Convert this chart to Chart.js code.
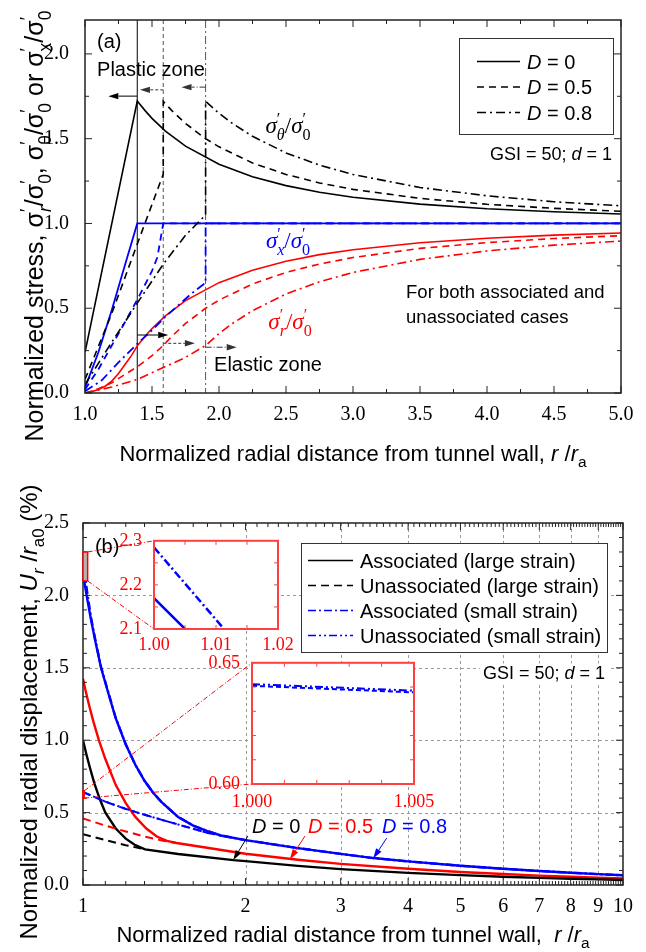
<!DOCTYPE html>
<html lang="en">
<head>
<meta charset="UTF-8">
<title>Stress and displacement around a tunnel</title>
<script src="https://cdn.jsdelivr.net/npm/chart.js@4.4.1/dist/chart.umd.min.js"></script>
<style>
  html, body { margin: 0; padding: 0; background: #fff; }
  #page { position: relative; width: 646px; height: 952px; overflow: hidden; }
  canvas { position: absolute; }
</style>
</head>
<body>
<div id="page">
  <canvas id="chartA" width="646" height="470" style="left:0;top:0"></canvas>
  <canvas id="chartB" width="646" height="482" style="left:0;top:470px"></canvas>
  <canvas id="inset1" width="185" height="130" style="left:114px;top:526px"></canvas>
  <canvas id="inset2" width="235" height="165" style="left:207px;top:648px"></canvas>
</div>

<script>
// ---------- panel (a): normalized stresses vs r/ra ----------
const xTicksA = [1.0, 1.5, 2.0, 2.5, 3.0, 3.5, 4.0, 4.5, 5.0];
const yTicksA = [0.0, 0.5, 1.0, 1.5, 2.0];
const plasticRadius = [1.39, 1.584, 1.9];          // D = 0, 0.5, 0.8
const legendA = ['0', '0.5', '0.8'];

// tangential stress
const thetaD0R = [1.0, 1.39, 1.45, 1.5, 1.6, 1.75, 2.0, 2.25, 2.5, 2.75, 3.0, 3.5, 4.0, 4.5, 5.0];
const thetaD0 = [0.24, 1.722, 1.664, 1.62, 1.545, 1.456, 1.349, 1.276, 1.223, 1.184, 1.155, 1.114, 1.087, 1.069, 1.056];
const thetaD05R = [1.0, 1.2, 1.4, 1.584, 1.584, 1.65, 1.75, 1.9, 2.0, 2.25, 2.5, 2.75, 3.0, 3.5, 4.0, 4.5, 5.0];
const thetaD05 = [0.08, 0.47, 0.9, 1.29, 1.72, 1.664, 1.59, 1.5, 1.452, 1.357, 1.289, 1.239, 1.201, 1.148, 1.113, 1.089, 1.072];
const thetaD08R = [1.0, 1.2, 1.39, 1.584, 1.75, 1.9, 1.9, 2.0, 2.1, 2.25, 2.5, 2.75, 3.0, 3.5, 4.0, 4.5, 5.0];
const thetaD08 = [0.05, 0.3, 0.53, 0.76, 0.93, 1.05, 1.72, 1.65, 1.59, 1.514, 1.416, 1.344, 1.289, 1.212, 1.163, 1.128, 1.104];

// radial stress
const radD0R = [1.0, 1.05, 1.1, 1.15, 1.2, 1.25, 1.3, 1.35, 1.39, 1.45, 1.5, 1.6, 1.75, 2.0, 2.25, 2.5, 2.75, 3.0, 3.5, 4.0, 4.5, 5.0];
const radD0 = [0, 0.008, 0.02, 0.04, 0.07, 0.115, 0.17, 0.225, 0.278, 0.336, 0.38, 0.455, 0.545, 0.651, 0.724, 0.777, 0.816, 0.845, 0.886, 0.913, 0.931, 0.944];
const radD05R = [1.0, 1.1, 1.2, 1.3, 1.4, 1.5, 1.584, 1.65, 1.75, 1.9, 2.0, 2.25, 2.5, 2.75, 3.0, 3.5, 4.0, 4.5, 5.0];
const radD05 = [0, 0.025, 0.06, 0.11, 0.16, 0.22, 0.28, 0.336, 0.41, 0.5, 0.548, 0.643, 0.711, 0.761, 0.799, 0.853, 0.887, 0.911, 0.928];
const radD08R = [1.0, 1.2, 1.39, 1.584, 1.75, 1.9, 2.0, 2.1, 2.25, 2.5, 2.75, 3.0, 3.5, 4.0, 4.5, 5.0];
const radD08 = [0, 0.035, 0.08, 0.15, 0.21, 0.28, 0.35, 0.41, 0.486, 0.584, 0.656, 0.711, 0.788, 0.838, 0.872, 0.896];

// axial stress
const axD0R = [1.0, 1.1, 1.2, 1.3, 1.39, 5.0];
const axD0 = [0.03, 0.24, 0.49, 0.76, 1.0, 1.0];
const axD05R = [1.0, 1.1, 1.2, 1.3, 1.41, 1.5, 1.54, 1.584, 5.0];
const axD05 = [0.02, 0.14, 0.28, 0.42, 0.58, 0.72, 0.8, 1.0, 1.0];
const axD08R = [1.0, 1.125, 1.25, 1.39, 1.5, 1.6, 1.7, 1.8, 1.9, 1.9, 5.0];
const axD08 = [0.01, 0.075, 0.18, 0.29, 0.37, 0.45, 0.52, 0.59, 0.65, 1.0, 1.0];

// zone arrows (start at the plastic radius)
const plasticArrowTo = [1.174, 1.41, 1.72];
const plasticArrowY = [1.751, 1.788, 1.804];
const elasticArrowTo = [1.621, 1.82, 2.132];
const elasticArrowY = [0.342, 0.293, 0.27];

// ---------- panel (b): normalized radial displacement ----------
const xTicksB = [1, 2, 3, 4, 5, 6, 7, 8, 9, 10];
const yTicksB = [0.0, 0.5, 1.0, 1.5, 2.0, 2.5];
const legendB = ['Associated (large strain)', 'Unassociated (large strain)', 'Associated (small strain)', 'Unassociated (small strain)'];

const bD0AssocR = [1.0, 1.015, 1.03, 1.05, 1.075, 1.1, 1.15, 1.2, 1.25, 1.303, 1.5, 1.9, 2.0, 2.5, 3, 4, 5, 6, 7, 8, 9, 10];
const bD0Assoc = [1.0, 0.9, 0.81, 0.7, 0.59, 0.5, 0.39, 0.32, 0.275, 0.246, 0.214, 0.172, 0.165, 0.132, 0.11, 0.084, 0.068, 0.057, 0.049, 0.043, 0.039, 0.035];
const bD0UnassocR = [1.0, 1.1, 1.2, 1.303];
const bD0Unassoc = [0.35, 0.31, 0.275, 0.246];

const bD05AssocR = [1.0, 1.01, 1.025, 1.045, 1.07, 1.1, 1.15, 1.2, 1.25, 1.31, 1.37, 1.43, 1.49, 2.0, 2.5, 3, 4, 5, 6, 7, 8, 9, 10];
const bD05Assoc = [1.425, 1.35, 1.25, 1.13, 1.0, 0.87, 0.69, 0.565, 0.47, 0.39, 0.335, 0.305, 0.29, 0.216, 0.174, 0.146, 0.112, 0.09, 0.076, 0.065, 0.057, 0.051, 0.045];
const bD05UnassocR = [1.0, 1.1, 1.2, 1.3, 1.4, 1.49];
const bD05Unassoc = [0.46, 0.41, 0.37, 0.335, 0.307, 0.29];

const bD08AssocR = [1.0, 1.005, 1.02, 1.035, 1.053, 1.08, 1.11, 1.15, 1.2, 1.25, 1.3, 1.35, 1.4, 1.5, 1.6, 1.7, 1.8, 2.0, 2.5, 3, 3.45, 4, 5, 6, 7, 8, 9, 10];
const bD08Assoc = [2.17, 2.1, 1.96, 1.83, 1.69, 1.5, 1.345, 1.15, 0.97, 0.83, 0.72, 0.635, 0.57, 0.47, 0.41, 0.372, 0.342, 0.31, 0.255, 0.215, 0.186, 0.163, 0.133, 0.112, 0.097, 0.085, 0.075, 0.067];
const bD08AssocSmallR = [1.0, 1.0113, 1.02, 1.035, 1.053, 1.08, 1.11, 1.15, 1.2, 1.25, 1.3, 1.35, 1.4, 1.5, 1.6, 1.7, 1.8, 2.0, 2.5, 3, 3.45, 4, 5, 6, 7, 8, 9, 10];
const bD08AssocSmall = [2.285, 2.1, 2.0, 1.845, 1.7, 1.505, 1.35, 1.153, 0.972, 0.83, 0.72, 0.635, 0.57, 0.47, 0.41, 0.372, 0.342, 0.31, 0.255, 0.215, 0.186, 0.163, 0.133, 0.112, 0.097, 0.085, 0.075, 0.067];
const bD08UnassocR = [1.0, 1.005, 1.1, 1.2, 1.3, 1.4, 1.5, 1.6, 1.7, 1.8];
const bD08Unassoc = [0.6405, 0.6378, 0.575, 0.525, 0.485, 0.45, 0.418, 0.388, 0.36, 0.342];
const bD08UnassocSmall = [0.6412, 0.6385, 0.576, 0.526, 0.485, 0.45, 0.418, 0.388, 0.36, 0.342];

// zoom windows shown in the insets
const zoom1X = [1.0, 1.02];
const zoom1Y = [2.1, 2.3];
const zoom2X = [1.0, 1.005];
const zoom2Y = [0.60, 0.65];

// ---------- helpers ----------
const SANS = '"Liberation Sans", Arial, sans-serif';
const SERIF = '"Liberation Serif", "Times New Roman", serif';
const BLACK = '#000', RED = '#ff0000', BLUE = '#0000ff';
const dashA = [[], [7, 5], [9, 4, 2, 4]];
const dashB = [[], [8, 5], [8, 3, 2, 3], [8, 3, 2, 3, 2, 3]];

function pts(xs, ys) { return xs.map((x, i) => ({ x: x, y: ys[i] })); }

function line(xs, ys, color, dash, width) {
  return { data: pts(xs, ys), borderColor: color, borderDash: dash, borderWidth: width,
           pointRadius: 0, pointHoverRadius: 0, fill: false, tension: 0 };
}

function range(a, b, step) {
  const out = [];
  for (let v = a; v <= b + step / 10; v += step) out.push(Math.round(v * 10000) / 10000);
  return out;
}

// draws text made of pieces (italic, subscripts, primes stacked over subscripts)
function drawRich(ctx, parts, x, y, o) {
  const fs = o.size, fam = o.family || SANS;
  const fontFor = p => (p.italic ? 'italic ' : '') + ((p.sub || p.sup) ? fs * 0.7 : fs) + 'px ' + fam;
  let total = 0;
  const widths = parts.map(p => {
    ctx.font = fontFor(p);
    const w = ctx.measureText(p.t).width;
    if (!p.stack) total += w;
    return w;
  });
  ctx.save();
  ctx.translate(x, y);
  if (o.rotate) ctx.rotate(o.rotate);
  ctx.textBaseline = 'alphabetic';
  ctx.textAlign = 'left';
  let cx = o.align === 'center' ? -total / 2 : o.align === 'right' ? -total : 0;
  if (o.bg) {
    ctx.fillStyle = o.bg;
    ctx.fillRect(cx - 3, -fs * 0.85, total + 6, fs * 1.1);
  }
  ctx.fillStyle = o.color || BLACK;
  parts.forEach((p, i) => {
    ctx.font = fontFor(p);
    const dy = p.sub ? fs * 0.3 : p.sup ? -fs * 0.4 : 0;
    ctx.fillText(p.t, cx, dy);
    if (!p.stack) cx += widths[i];
  });
  ctx.restore();
  return total;
}

function arrow(ctx, x0, y0, x1, y1, color, dash) {
  const head = 10, half = 3.2;
  const a = Math.atan2(y1 - y0, x1 - x0);
  const hx = x1 - head * Math.cos(a), hy = y1 - head * Math.sin(a);
  ctx.save();
  ctx.strokeStyle = color; ctx.fillStyle = color; ctx.lineWidth = 1;
  ctx.setLineDash(dash);
  ctx.beginPath(); ctx.moveTo(x0, y0); ctx.lineTo(hx, hy); ctx.stroke();
  ctx.setLineDash([]);
  ctx.beginPath();
  ctx.moveTo(x1, y1);
  ctx.lineTo(hx + half * Math.sin(a), hy - half * Math.cos(a));
  ctx.lineTo(hx - half * Math.sin(a), hy + half * Math.cos(a));
  ctx.closePath(); ctx.fill();
  ctx.restore();
}

function sigma(sub, subItalic, family) {
  return [{ t: 'σ', italic: family === SERIF }, { t: '′', sup: true, stack: true }, { t: sub, sub: true, italic: subItalic }];
}

// frame, inward tick marks and optional dashed grid
const frameTicks = {
  id: 'frameTicks',
  beforeDatasetsDraw(chart, args, o) {
    const { ctx, chartArea: ca, scales } = chart;
    ctx.save();
    if (o.fill) { ctx.fillStyle = o.fill; ctx.fillRect(ca.left, ca.top, ca.width, ca.height); }
    if (o.gridX || o.gridY) {
      ctx.strokeStyle = '#9a9a9a'; ctx.lineWidth = 1; ctx.setLineDash([3, 3]);
      ctx.beginPath();
      (o.gridX || []).forEach(v => { const p = Math.round(scales.x.getPixelForValue(v)) + 0.5; ctx.moveTo(p, ca.top); ctx.lineTo(p, ca.bottom); });
      (o.gridY || []).forEach(v => { const p = Math.round(scales.y.getPixelForValue(v)) + 0.5; ctx.moveTo(ca.left, p); ctx.lineTo(ca.right, p); });
      ctx.stroke();
    }
    ctx.restore();
  },
  afterDatasetsDraw(chart, args, o) {
    const { ctx, chartArea: ca, scales } = chart;
    ctx.save();
    ctx.strokeStyle = o.color; ctx.lineWidth = 1;
    ctx.beginPath();
    const marks = (xs, ys, len) => {
      xs.forEach(v => { const p = scales.x.getPixelForValue(v); ctx.moveTo(p, ca.bottom); ctx.lineTo(p, ca.bottom - len); ctx.moveTo(p, ca.top); ctx.lineTo(p, ca.top + len); });
      ys.forEach(v => { const p = scales.y.getPixelForValue(v); ctx.moveTo(ca.left, p); ctx.lineTo(ca.left + len, p); ctx.moveTo(ca.right, p); ctx.lineTo(ca.right - len, p); });
    };
    marks(o.majorX, o.majorY, o.majorLen);
    marks(o.minorX, o.minorY, o.minorLen);
    ctx.stroke();
    ctx.lineWidth = o.frameWidth;
    ctx.strokeRect(ca.left, ca.top, ca.width, ca.height);
    ctx.restore();
  }
};

function baseOptions(padding) {
  return {
    responsive: false, animation: false, events: [],
    layout: { padding: padding },
    plugins: { legend: { display: false }, tooltip: { enabled: false } }
  };
}

function axis(type, min, max, tickValues, fmt, fit, font, color, pad) {
  return {
    type: type, min: min, max: max,
    grid: { display: false }, border: { display: false },
    afterBuildTicks: s => { s.ticks = tickValues.map(v => ({ value: v })); },
    afterFit: fit,
    ticks: { padding: pad, maxRotation: 0, autoSkip: false, callback: fmt, font: font, color: color }
  };
}

// ---------- insets ----------
function makeInset(id, xr, yr, xTicks, yTicks, xMinor, yMinor, dx, dy, yWidth, xHeight, padding, xPad, sets) {
  const opts = baseOptions(padding);
  const f = { family: SERIF, size: 18 };
  opts.scales = {
    x: axis('linear', xr[0], xr[1], xTicks, v => v.toFixed(dx), s => { s.height = xHeight; }, f, RED, xPad),
    y: axis('linear', yr[0], yr[1], yTicks, v => v.toFixed(dy), s => { s.width = yWidth; }, f, RED, 4)
  };
  opts.plugins.frameTicks = { fill: '#fff', color: '#ff4040', frameWidth: 2,
    majorX: xTicks, majorY: yTicks, minorX: xMinor, minorY: yMinor, majorLen: 4, minorLen: 4 };
  return new Chart(document.getElementById(id), {
    type: 'line', data: { datasets: sets }, options: opts, plugins: [frameTicks]
  });
}

const inset1 = makeInset('inset1', zoom1X, zoom1Y, [1.00, 1.01, 1.02], [2.1, 2.2, 2.3], [1.005, 1.015], [2.15, 2.25],
  2, 1, 40, 27, { left: 0, top: 11, right: 21, bottom: 0 }, -3, [
    Object.assign(line(bD08AssocR, bD08Assoc, BLUE, dashB[0], 2.5), { clip: 0 }),
    Object.assign(line(bD08AssocSmallR, bD08AssocSmall, BLUE, dashB[2], 2.5), { clip: 0 })
  ]);

const inset2 = makeInset('inset2', zoom2X, zoom2Y, [1.000, 1.005], [0.60, 0.65], [1.001, 1.002, 1.003, 1.004], [0.61, 0.62, 0.63, 0.64],
  3, 2, 45, 29, { left: 0, top: 13, right: 28, bottom: 0 }, -1, [
    Object.assign(line(bD08UnassocR, bD08Unassoc, BLUE, [5, 3], 2), { clip: 0 }),
    Object.assign(line(bD08UnassocR, bD08UnassocSmall, BLUE, dashB[3], 2), { clip: 0 })
  ]);

// ---------- panel (a) ----------
const annotateA = {
  id: 'annotateA',
  beforeDatasetsDraw(chart) {
    const { ctx, chartArea: ca, scales: { x } } = chart;
    const colors = ['#000', '#555', '#555'], dashes = [[], [4, 3], [8, 3, 2, 3]];
    plasticRadius.forEach((r, i) => {
      const p = x.getPixelForValue(r);
      ctx.save();
      ctx.strokeStyle = colors[i]; ctx.lineWidth = 1; ctx.setLineDash(dashes[i]);
      ctx.beginPath(); ctx.moveTo(p, ca.top); ctx.lineTo(p, ca.bottom); ctx.stroke();
      ctx.restore();
    });
  },
  afterDraw(chart) {
    const { ctx, chartArea: ca, scales: { x, y } } = chart;
    const X = v => x.getPixelForValue(v), Y = v => y.getPixelForValue(v);
    const arrowDash = [[], [3, 2], [6, 2, 1, 2]], arrowColor = ['#000', '#333', '#333'];
    plasticRadius.forEach((r, i) => {
      arrow(ctx, X(r), Y(plasticArrowY[i]), X(plasticArrowTo[i]), Y(plasticArrowY[i]), arrowColor[i], arrowDash[i]);
      arrow(ctx, X(r), Y(elasticArrowY[i]), X(elasticArrowTo[i]), Y(elasticArrowY[i]), arrowColor[i], arrowDash[i]);
    });

    const mid = (s, fs) => Y(s) + fs * 0.36;
    drawRich(ctx, [{ t: '(a)' }], X(1.09), mid(2.08, 20), { size: 20 });
    drawRich(ctx, [{ t: 'Plastic zone' }], X(1.09), mid(1.91, 20), { size: 20 });
    drawRich(ctx, [{ t: 'Elastic zone' }], X(1.963), mid(0.175, 20), { size: 20 });
    drawRich(ctx, [{ t: 'GSI = 50; ' }, { t: 'd', italic: true }, { t: ' = 1' }], X(4.933), mid(1.415, 18), { size: 18, align: 'right' });
    drawRich(ctx, [{ t: 'For both associated and' }], X(3.396), mid(0.60, 18.5), { size: 18.5 });
    drawRich(ctx, [{ t: 'unassociated cases' }], X(3.396), mid(0.455, 18.5), { size: 18.5 });

    const ratio = (sub, subItalic) => sigma(sub, subItalic, SERIF).concat([{ t: '/' }], sigma('0', false, SERIF));
    drawRich(ctx, ratio('θ', true), X(2.515), mid(1.584, 23), { size: 23, family: SERIF, align: 'center', color: BLACK });
    drawRich(ctx, ratio('x', true), X(2.515), mid(0.903, 23), { size: 23, family: SERIF, align: 'center', color: BLUE });
    drawRich(ctx, ratio('r', true), X(2.53), mid(0.425, 23), { size: 23, family: SERIF, align: 'center', color: RED });

    // legend
    const bx = ca.left + 374, by = ca.top + 18;
    ctx.save();
    ctx.fillStyle = '#fff'; ctx.fillRect(bx, by, 154, 96);
    ctx.strokeStyle = '#333'; ctx.lineWidth = 1; ctx.strokeRect(bx + 0.5, by + 0.5, 154, 96);
    legendA.forEach((d, i) => {
      const ry = by + 23.5 + i * 25.5;
      ctx.strokeStyle = BLACK; ctx.lineWidth = 1.6; ctx.setLineDash(dashA[i]);
      ctx.beginPath(); ctx.moveTo(bx + 18, ry); ctx.lineTo(bx + 61, ry); ctx.stroke();
      drawRich(ctx, [{ t: 'D', italic: true }, { t: ' = ' + d }], bx + 68, ry + 7.2, { size: 20 });
    });
    ctx.restore();

    // axis titles
    drawRich(ctx, [{ t: 'Normalized radial distance from tunnel wall, ' }, { t: 'r', italic: true }, { t: ' /' },
      { t: 'r', italic: true }, { t: 'a', sub: true }], (ca.left + ca.right) / 2, 460.5, { size: 22, align: 'center' });
    const yTitle = [{ t: 'Normalized stress, ' }].concat(
      sigma('r', true, SANS), [{ t: '/' }], sigma('0', false, SANS), [{ t: ', ' }],
      sigma('θ', false, SANS), [{ t: '/' }], sigma('0', false, SANS), [{ t: ' or ' }],
      sigma('x', false, SANS), [{ t: '/' }], sigma('0', false, SANS));
    drawRich(ctx, yTitle, 43, 226, { size: 25, align: 'center', rotate: -Math.PI / 2 });
  }
};

const optsA = baseOptions({ left: 0, top: 14, right: 25, bottom: 0 });
const tickFont = { family: SERIF, size: 20 };
optsA.scales = {
  x: axis('linear', 1, 5, xTicksA, v => v.toFixed(1), s => { s.height = 77; }, tickFont, BLACK, 2),
  y: axis('linear', 0, 2.2, yTicksA, v => v.toFixed(1), s => { s.width = 85; }, tickFont, BLACK, 8)
};
optsA.plugins.frameTicks = { color: '#222', frameWidth: 1.5, majorX: xTicksA, majorY: yTicksA,
  minorX: range(1.25, 4.75, 0.5), minorY: range(0.25, 2.0, 0.5), majorLen: 7, minorLen: 4 };

const chartA = new Chart(document.getElementById('chartA'), {
  type: 'line',
  data: {
    datasets: [
      line(thetaD0R, thetaD0, BLACK, dashA[0], 1.6),
      line(thetaD05R, thetaD05, BLACK, dashA[1], 1.6),
      line(thetaD08R, thetaD08, BLACK, dashA[2], 1.6),
      line(axD08R, axD08, BLUE, dashA[2], 1.8),
      line(axD05R, axD05, BLUE, dashA[1], 1.8),
      line(axD0R, axD0, BLUE, dashA[0], 1.8),
      line(radD0R, radD0, RED, dashA[0], 1.6),
      line(radD05R, radD05, RED, dashA[1], 1.6),
      line(radD08R, radD08, RED, dashA[2], 1.6)
    ]
  },
  options: optsA,
  plugins: [frameTicks, annotateA]
});

// ---------- panel (b) ----------
const annotateB = {
  id: 'annotateB',
  afterDraw(chart) {
    const { ctx, chartArea: ca, scales: { x, y } } = chart;
    const X = v => x.getPixelForValue(v), Y = v => y.getPixelForValue(v);
    const mid = (s, fs) => Y(s) + fs * 0.36;

    // zoom windows and their leader lines to the insets
    const offX = c => c.offsetLeft - chart.canvas.offsetLeft, offY = c => c.offsetTop - chart.canvas.offsetTop;
    [[inset1, zoom1X, zoom1Y, '#b4b4b4'], [inset2, zoom2X, zoom2Y, null]].forEach(([ins, zx, zy, fill]) => {
      const ia = ins.chartArea, ox = offX(ins.canvas), oy = offY(ins.canvas);
      const x0 = X(zx[0]), x1 = X(zx[1]), yTop = Y(zy[1]), yBot = Y(zy[0]);
      ctx.save();
      if (fill) { ctx.fillStyle = fill; ctx.fillRect(x0, yTop, x1 - x0, yBot - yTop); }
      ctx.strokeStyle = RED; ctx.lineWidth = 1.5;
      ctx.strokeRect(x0, yTop, x1 - x0, yBot - yTop);
      ctx.lineWidth = 1; ctx.setLineDash([5, 2, 1, 2]);
      ctx.beginPath();
      ctx.moveTo(x1, yTop); ctx.lineTo(ox + ia.left, oy + ia.top);
      ctx.moveTo(x1, yBot); ctx.lineTo(ox + ia.left, oy + ia.bottom);
      ctx.stroke();
      ctx.restore();
    });

    drawRich(ctx, [{ t: '(b)' }], X(1.052), mid(2.345, 20), { size: 20 });
    drawRich(ctx, [{ t: 'GSI = 50; ' }, { t: 'd', italic: true }, { t: ' = 1' }], X(9.26), mid(1.469, 18), { size: 18, align: 'right', bg: '#fff' });

    const labels = [['0', BLACK, 2.056, [2.02, 0.338], [1.898, 0.172]],
                    ['0.5', RED, 2.61, [2.577, 0.338], [2.417, 0.178]],
                    ['0.8', BLUE, 3.58, [3.651, 0.324], [3.448, 0.184]]];
    labels.forEach(([d, c, lx, tail, tip]) => {
      drawRich(ctx, [{ t: 'D', italic: true }, { t: ' = ' + d }], X(lx), mid(0.407, 20), { size: 20, color: c });
      arrow(ctx, X(tail[0]), Y(tail[1]), X(tip[0]), Y(tip[1]), c, []);
    });

    // legend
    const bx = ca.left + 218, by = ca.top + 20;
    const colors = [BLACK, BLACK, BLUE, BLUE];
    ctx.save();
    ctx.fillStyle = '#fff'; ctx.fillRect(bx, by, 306, 109);
    ctx.strokeStyle = '#333'; ctx.lineWidth = 1; ctx.strokeRect(bx + 0.5, by + 0.5, 306, 109);
    legendB.forEach((name, i) => {
      const ry = by + 17.5 + i * 25;
      ctx.strokeStyle = colors[i]; ctx.lineWidth = 1.5; ctx.setLineDash(dashB[i]);
      ctx.beginPath(); ctx.moveTo(bx + 7, ry); ctx.lineTo(bx + 52, ry); ctx.stroke();
      drawRich(ctx, [{ t: name }], bx + 59, ry + 7.2, { size: 20 });
    });
    ctx.restore();

    // axis titles
    drawRich(ctx, [{ t: 'Normalized radial distance from tunnel wall,  ' }, { t: 'r', italic: true }, { t: ' /' },
      { t: 'r', italic: true }, { t: 'a', sub: true }], (ca.left + ca.right) / 2, 471.5, { size: 22, align: 'center' });
    drawRich(ctx, [{ t: 'Normalized radial displacement, ' }, { t: 'U', italic: true }, { t: 'r', italic: true, sub: true },
      { t: ' /' }, { t: 'r', italic: true }, { t: 'a0', sub: true }, { t: ' (%)' }], 37, 242, { size: 24, align: 'center', rotate: -Math.PI / 2 });
  }
};

const optsB = baseOptions({ left: 0, top: 53, right: 23, bottom: 0 });
optsB.scales = {
  x: axis('logarithmic', 1, 10, xTicksB, v => String(v), s => { s.height = 67; }, tickFont, BLACK, 2),
  y: axis('linear', 0, 2.5, yTicksB, v => v.toFixed(1), s => { s.width = 83; }, tickFont, BLACK, 6)
};
const minorXB = range(1.1, 9.9, 0.1).filter(v => Math.abs(v - Math.round(v)) > 1e-6);
optsB.plugins.frameTicks = { color: '#222', frameWidth: 1.5, majorX: xTicksB, majorY: yTicksB,
  minorX: minorXB, minorY: range(0.1, 2.4, 0.1).filter(v => Math.abs(v * 2 - Math.round(v * 2)) > 1e-6),
  majorLen: 7, minorLen: 4, gridX: xTicksB.slice(1, -1), gridY: yTicksB.slice(1, -1) };

const chartB = new Chart(document.getElementById('chartB'), {
  type: 'line',
  data: {
    datasets: [
      line(bD0UnassocR, bD0Unassoc, BLACK, dashB[1], 2),
      line(bD05UnassocR, bD05Unassoc, RED, dashB[1], 2),
      line(bD08UnassocR, bD08UnassocSmall, BLUE, dashB[3], 2),
      line(bD08UnassocR, bD08Unassoc, BLUE, dashB[1], 2),
      line(bD0AssocR, bD0Assoc, BLACK, dashB[0], 2.4),
      line(bD05AssocR, bD05Assoc, RED, dashB[0], 2.4),
      line(bD08AssocSmallR, bD08AssocSmall, BLUE, dashB[2], 2.4),
      line(bD08AssocR, bD08Assoc, BLUE, dashB[0], 2.4)
    ]
  },
  options: optsB,
  plugins: [frameTicks, annotateB]
});
</script>
</body>
</html>
